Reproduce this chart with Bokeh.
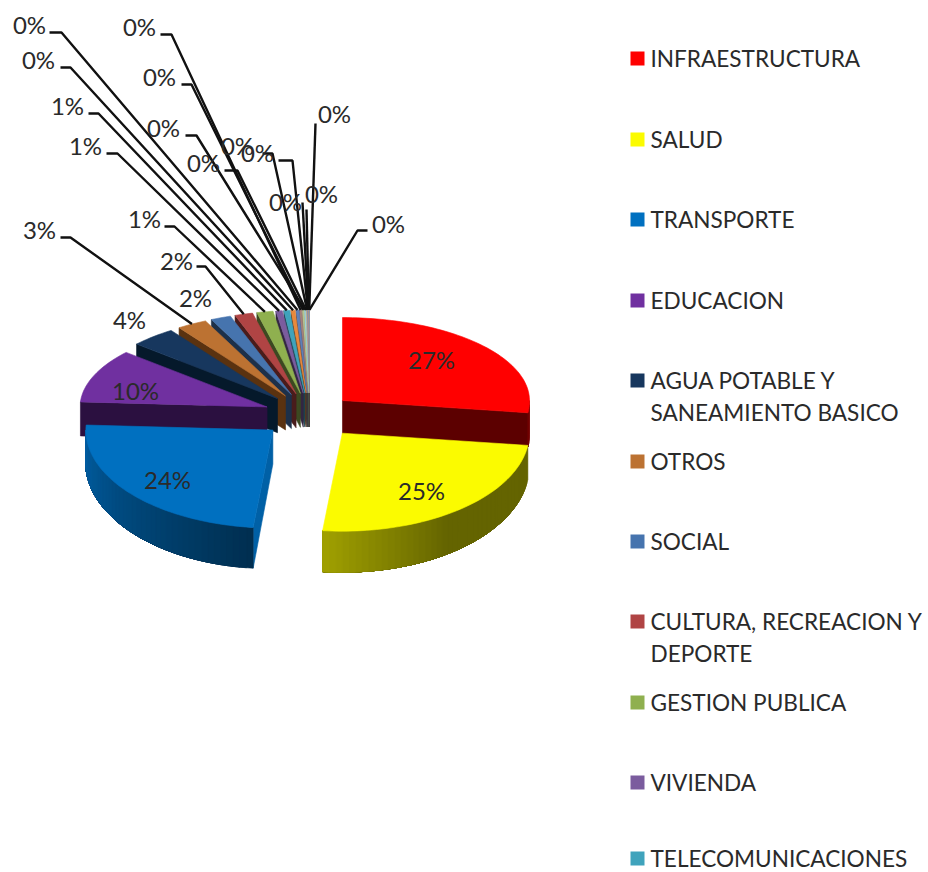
import math
from bokeh.plotting import figure
from bokeh.models import ColumnDataSource, Range1d
from bokeh.core.properties import value
from bokeh.embed import file_html
from bokeh.resources import INLINE

# ---- data ----
categories = ["INFRAESTRUCTURA", "SALUD", "TRANSPORTE", "EDUCACION",
              "AGUA POTABLE Y\nSANEAMIENTO BASICO", "OTROS", "SOCIAL",
              "CULTURA, RECREACION Y\nDEPORTE", "GESTION PUBLICA", "VIVIENDA",
              "TELECOMUNICACIONES"]
main_values = [27.0, 24.7, 24.3, 10.45, 3.95, 2.6, 1.75, 1.55, 1.4, 0.55, 0.5]
minor_values = [0.35, 0.25, 0.18, 0.14, 0.1, 0.08, 0.06, 0.04, 0.03, 0.03, 0.02, 0.01]
percent_labels = ["27%", "25%", "24%", "10%", "4%", "3%", "2%", "2%", "1%", "1%", "1%",
                  "0%", "0%", "0%", "0%", "0%", "0%", "0%", "0%", "0%", "0%", "0%", "0%"]
main_colors = ["#FF0000", "#FBFB00", "#0070C0", "#7030A0", "#17375E", "#BC7232",
               "#4674AE", "#B04444", "#8FB04F", "#7B5C9E", "#3FA3BC"]
minor_colors = ["#E8893C", "#5F80B8", "#A5807A", "#B4C48E", "#9FD6E2", "#C8B48E",
                "#8890B8", "#C09090", "#B0C090", "#A090B0", "#90C0D0", "#E0C0A0"]
face_colors = {0: "#5C0000", 3: "#2B1040", 4: "#05192B", 5: "#5A3210", 2: "#0060A6"}
# gradient stops of the visible outer wall: (fraction along wall, brightness)
wall_stops = {1: [(0, 0.40), (0.55, 0.40), (1, 0.64)], 2: [(0, 0.42), (1, 0.85)],
              3: [(0, 0.25), (1, 0.3)]}

# label layout in page pixels (label centre, then leader elbow points)
label_centres = [(431, 359), (421, 490), (167, 479), (135, 390), (129, 319), (39, 229), (195, 297),
                 (176, 260), (144, 218), (85, 145), (67, 105), (38, 59), (29, 24), (139, 26),
                 (159, 76), (163, 127), (203, 162), (237, 145), (257, 152), (285, 201), (321, 193),
                 (334, 113), (388, 223)]
leader_elbows = {5: [(60, 237), (70, 237)], 7: [(196, 266), (205, 266)], 8: [(164, 226), (174, 226)],
                 9: [(106, 153), (117, 153)], 10: [(88, 113), (98, 113)], 11: [(60, 67), (70, 67)],
                 12: [(49, 32), (61, 32)], 13: [(160, 34), (171, 34)], 14: [(181, 84), (191, 84)],
                 15: [(185, 135), (196, 135)], 16: [(224, 170), (237, 170)], 17: [(262, 153), (272, 153)],
                 18: [(278, 160), (292, 160)], 19: [(302, 202)], 20: [(306, 209)], 21: [(315, 123)],
                 22: [(367, 230), (357, 230)]}
legend_rows = [58, 139, 219, 300, 380, 461, 541, 621, 702, 782, 858]

# projection settings of the tilted pie
CX, CY, EXPLODE, TILT = 309, 415, 48, 0.47
RX, RY_BACK, RY_FRONT = 187, 83, 98
SLICE_SHIFT = {0: -3, 1: 3, 3: 2}
FONT = "Lato"

values = main_values + minor_values
colors = main_colors + minor_colors
total = sum(values)
edges = [0.0]
for v in values:
    edges.append(edges[-1] + v / total * 360)


def project(theta, radius, bisector, shift=0):
    t, b = math.radians(theta), math.radians(bisector)
    ry = RY_BACK if math.cos(t) > 0 else RY_FRONT
    return (CX + shift + EXPLODE * math.sin(b) + radius * RX * math.sin(t),
            CY - EXPLODE * TILT * math.cos(b) - radius * ry * math.cos(t))


def depth(y):
    return 34 + 7 * max(0.0, min(1.0, (y - 443) / 88))


def shade(col, f):
    r, g, b = int(col[1:3], 16), int(col[3:5], 16), int(col[5:7], 16)
    return "#%02x%02x%02x" % (int(r * f), int(g * f), int(b * f))


def wall_level(stops, frac):
    for (a, fa), (b, fb) in zip(stops, stops[1:]):
        if frac <= b:
            return fa + (fb - fa) * (frac - a) / (b - a)
    return stops[-1][1]


polys = {"xs": [], "ys": [], "c": []}


def add(pts, col):
    polys["xs"].append([q[0] for q in pts])
    polys["ys"].append([q[1] for q in pts])
    polys["c"].append(col)


def side(points, col):
    add(points + [(x, y + depth(y)) for x, y in reversed(points)], col)


order = sorted(range(len(values)), key=lambda i: -math.cos(math.radians((edges[i] + edges[i + 1]) / 2)))
for i in order:
    t0, t1 = edges[i], edges[i + 1]
    bis = (t0 + t1) / 2
    s = SLICE_SHIFT.get(i, 0)
    col = colors[i]
    face = face_colors.get(i, shade(col, 0.42))
    apex = project(0, 0, bis, s)
    # radial walls that face the viewer
    if math.sin(math.radians(t0)) < 0:
        side([apex, project(t0, 1, bis, s)], face)
    if math.sin(math.radians(t1)) > 0:
        side([apex, project(t1, 1, bis, s)], face)
    # outer wall: each strip runs to the wall's end and the next one overpaints it, so no seams show
    w0, w1 = max(t0, 90.0), min(t1, 270.0)
    if w1 > w0:
        n = max(1, int((w1 - w0) / 2))
        stops = wall_stops.get(i, [(0, 0.45), (1, 0.45)])
        for k in range(n):
            pts = [project(w0 + (w1 - w0) * m / n, 1, bis, s) for m in range(k, n + 1)]
            add(pts + [(x, y + depth(y)) for x, y in reversed(pts)],
                shade(col, wall_level(stops, (k + 0.5) / n)))
    # top surface
    steps = max(2, int((t1 - t0) / 1.5))
    arc = [project(t0 + (t1 - t0) * k / steps, 1, bis, s) for k in range(steps + 1)]
    add([apex] + arc, col)

p = figure(width=928, height=872, x_range=Range1d(0, 928), y_range=Range1d(872, 0),
           output_backend="svg", toolbar_location=None, min_border=0)
p.axis.visible = False
p.grid.visible = False
p.outline_line_color = None
p.background_fill_color = "white"

p.patches("xs", "ys", source=ColumnDataSource(polys), fill_color="c", line_color="c", line_width=0.6)

# leader lines
lx, ly = [], []
for i, elbow in leader_elbows.items():
    bis = (edges[i] + edges[i + 1]) / 2
    end = project(bis, 1, bis)
    lx.append([q[0] for q in elbow] + [end[0]])
    ly.append([q[1] for q in elbow] + [end[1]])
p.multi_line(lx, ly, line_color="#111111", line_width=2.4)

# data labels
p.text([c[0] for c in label_centres], [c[1] for c in label_centres], text=percent_labels,
       text_font=value(FONT), text_font_size="24px", text_color="#2a2a2a",
       text_align="center", text_baseline="middle")

# legend
p.scatter([637] * len(legend_rows), legend_rows, marker="square", size=14,
          fill_color=main_colors, line_color=None)
tx, ty, tt = [], [], []
for name, row in zip(categories, legend_rows):
    for j, part in enumerate(name.split("\n")):
        tx.append(650)
        ty.append(row + j * 32)
        tt.append(part)
p.text(tx, ty, text=tt, text_font=value(FONT), text_font_size="22.6px", text_color="#2a2a2a",
       text_align="left", text_baseline="middle")

open("out.html", "w").write(file_html(p, INLINE))
